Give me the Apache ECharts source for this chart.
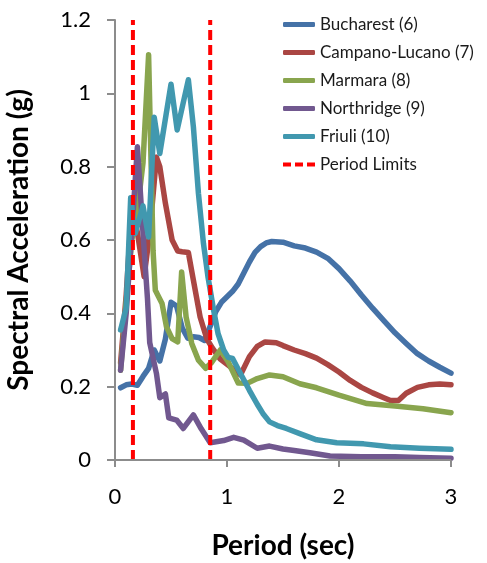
<!DOCTYPE html>
<html>
<head>
<meta charset="utf-8">
<script src="https://cdn.jsdelivr.net/npm/echarts@6/dist/echarts.min.js"></script>
<style>
  html, body { margin: 0; padding: 0; background: #fff; }
  #chart { width: 487px; height: 563px; }
</style>
</head>
<body>
<div id="chart"></div>
<script>
// Response spectra of the five selected records (period in s, Sa in g)
const bucharestT = [0.05, 0.10, 0.15, 0.20, 0.25, 0.30, 0.35, 0.40, 0.45, 0.50, 0.55, 0.60, 0.65, 0.70, 0.75, 0.80, 0.85, 0.90, 0.95, 1.00, 1.05, 1.10, 1.15, 1.20, 1.25, 1.30, 1.35, 1.40, 1.50, 1.60, 1.70, 1.80, 1.90, 2.00, 2.10, 2.20, 2.30, 2.40, 2.50, 2.60, 2.70, 2.80, 2.90, 3.00];
const bucharestSa = [0.197, 0.205, 0.207, 0.204, 0.228, 0.250, 0.300, 0.270, 0.330, 0.430, 0.420, 0.360, 0.332, 0.336, 0.334, 0.326, 0.365, 0.405, 0.430, 0.445, 0.460, 0.480, 0.510, 0.540, 0.566, 0.582, 0.592, 0.596, 0.594, 0.584, 0.578, 0.567, 0.550, 0.522, 0.488, 0.450, 0.414, 0.380, 0.347, 0.318, 0.290, 0.270, 0.253, 0.237];

const campanoT = [0.05, 0.10, 0.15, 0.20, 0.26, 0.31, 0.37, 0.40, 0.45, 0.51, 0.56, 0.60, 0.655, 0.70, 0.76, 0.82, 0.87, 0.94, 1.03, 1.12, 1.20, 1.27, 1.34, 1.44, 1.50, 1.60, 1.70, 1.80, 1.90, 2.00, 2.10, 2.20, 2.30, 2.40, 2.46, 2.53, 2.60, 2.70, 2.80, 2.90, 3.00];
const campanoSa = [0.265, 0.450, 0.690, 0.620, 0.500, 0.620, 0.826, 0.800, 0.700, 0.600, 0.570, 0.568, 0.566, 0.490, 0.390, 0.330, 0.305, 0.275, 0.254, 0.232, 0.282, 0.310, 0.322, 0.320, 0.312, 0.300, 0.290, 0.278, 0.260, 0.240, 0.217, 0.198, 0.183, 0.170, 0.162, 0.162, 0.182, 0.198, 0.205, 0.207, 0.205];

const marmaraT = [0.05, 0.10, 0.15, 0.20, 0.25, 0.30, 0.34, 0.36, 0.42, 0.46, 0.51, 0.56, 0.595, 0.635, 0.685, 0.745, 0.81, 0.86, 0.94, 1.01, 1.10, 1.18, 1.27, 1.38, 1.50, 1.65, 1.80, 2.00, 2.25, 2.50, 2.75, 3.00];
const marmaraSa = [0.245, 0.430, 0.600, 0.680, 0.810, 1.105, 0.570, 0.463, 0.427, 0.363, 0.331, 0.322, 0.513, 0.390, 0.318, 0.272, 0.250, 0.265, 0.300, 0.268, 0.210, 0.209, 0.222, 0.232, 0.227, 0.208, 0.197, 0.177, 0.154, 0.147, 0.140, 0.129];

const northridgeT = [0.05, 0.10, 0.15, 0.20, 0.25, 0.29, 0.31, 0.37, 0.40, 0.45, 0.48, 0.55, 0.61, 0.70, 0.77, 0.85, 0.97, 1.06, 1.15, 1.27, 1.38, 1.50, 1.60, 1.74, 1.92, 2.20, 2.50, 2.72, 3.00];
const northridgeSa = [0.245, 0.400, 0.620, 0.854, 0.620, 0.440, 0.320, 0.236, 0.170, 0.180, 0.115, 0.109, 0.086, 0.123, 0.085, 0.047, 0.053, 0.062, 0.054, 0.032, 0.038, 0.030, 0.026, 0.020, 0.011, 0.009, 0.009, 0.007, 0.005];

const friuliT = [0.05, 0.10, 0.14, 0.18, 0.25, 0.30, 0.35, 0.40, 0.50, 0.555, 0.655, 0.70, 0.745, 0.79, 0.83, 0.88, 0.92, 0.97, 1.01, 1.05, 1.12, 1.20, 1.27, 1.32, 1.38, 1.45, 1.53, 1.65, 1.80, 1.98, 2.22, 2.46, 2.72, 3.00];
const friuliSa = [0.355, 0.415, 0.715, 0.618, 0.693, 0.608, 0.935, 0.836, 1.025, 0.900, 1.037, 0.908, 0.727, 0.590, 0.500, 0.410, 0.345, 0.300, 0.280, 0.277, 0.236, 0.190, 0.152, 0.127, 0.104, 0.094, 0.086, 0.072, 0.055, 0.047, 0.044, 0.036, 0.032, 0.029];

// Period range limits (s) and the y-extent of the limit lines
const periodLimits = [0.16, 0.85];
const limitRange = [0, 1.2];

const seriesNames = ['Bucharest (6)', 'Campano-Lucano (7)', 'Marmara (8)', 'Northridge (9)', 'Friuli (10)'];
const limitName = 'Period Limits';
const seriesColors = ['#4572A7', '#AA4643', '#89A54E', '#71588F', '#4198AF'];
const seriesT = [bucharestT, campanoT, marmaraT, northridgeT, friuliT];
const seriesSa = [bucharestSa, campanoSa, marmaraSa, northridgeSa, friuliSa];

const yTicks = [0, 0.2, 0.4, 0.6, 0.8, 1, 1.2];
const xTicks = [0, 1, 2, 3];

const FONT = 'Lato, "Open Sans", sans-serif';
const AXIS_GREY = '#8C8C8C';

// Plot-area geometry (px)
const GRID = { left: 115, right: 36, top: 20, bottom: 103 };
const PLOT_W = 487 - GRID.left - GRID.right;
const PLOT_H = 563 - GRID.top - GRID.bottom;

const xMin = xTicks[0], xMax = xTicks[xTicks.length - 1];
const yMin = yTicks[0], yMax = yTicks[yTicks.length - 1];

const zip = (t, v) => t.map((x, i) => [x, v[i]]);

const spectra = seriesNames.map((name, k) => ({
  name: name,
  type: 'line',
  data: zip(seriesT[k], seriesSa[k]),
  symbol: 'none',
  lineStyle: { width: 5.5, color: seriesColors[k], cap: 'round', join: 'round' },
  itemStyle: { color: seriesColors[k] },
  z: 3 + k,
  silent: true
}));

const limits = periodLimits.map(p => ({
  name: limitName,
  type: 'line',
  data: [[p, limitRange[0]], [p, limitRange[1]]],
  symbol: 'none',
  lineStyle: { width: 4, color: '#FF0000', type: [10, 5] },
  itemStyle: { color: '#FF0000' },
  z: 10,
  silent: true
}));

// Axis frame with outward ticks (tick lengths: 8 px left, 7 px down)
const tickDx = 8 * (xMax - xMin) / PLOT_W;
const tickDy = 7 * (yMax - yMin) / PLOT_H;
const frameSegments = [
  [[xMin, yMin], [xMin, yMax]],
  [[xMin - tickDx, yMin], [xMax, yMin]]
]
  .concat(yTicks.map(v => [[xMin - tickDx, v], [xMin, v]]))
  .concat(xTicks.map(v => [[v, yMin], [v, yMin - tickDy]]));

const frame = frameSegments.map(seg => ({
  type: 'line',
  data: seg,
  symbol: 'none',
  clip: false,
  silent: true,
  z: 12,
  lineStyle: { width: 2, color: AXIS_GREY, cap: 'butt' },
  itemStyle: { color: AXIS_GREY }
}));

const chart = echarts.init(document.getElementById('chart'), null, { renderer: 'canvas' });
chart.setOption({
  animation: false,
  backgroundColor: '#ffffff',
  grid: Object.assign({ containLabel: false, outerBoundsMode: 'none' }, GRID),
  legend: {
    orient: 'vertical',
    left: 283,
    top: 16,
    padding: 0,
    itemWidth: 32,
    itemHeight: 5,
    itemGap: 11,
    textStyle: { fontFamily: FONT, fontSize: 17, color: '#1a1a1a' },
    data: seriesNames.map(n => ({ name: n, icon: 'roundRect' }))
      .concat([{ name: limitName, icon: 'path://M0,0h8v4h-8z M12,0h8v4h-8z M24,0h8v4h-8z' }])
  },
  xAxis: {
    type: 'value',
    min: xMin,
    max: xMax,
    interval: 1,
    name: 'Period (sec)',
    nameLocation: 'middle',
    nameGap: 72,
    nameTextStyle: { fontFamily: FONT, fontSize: 28, fontWeight: 'bold', color: '#000' },
    axisLine: { show: true, onZero: false, lineStyle: { color: AXIS_GREY, width: 2 } },
    axisTick: { show: true, length: 7, lineStyle: { color: AXIS_GREY, width: 2 } },
    axisLabel: { fontFamily: FONT, fontSize: 22, color: '#000', margin: 26 },
    splitLine: { show: false }
  },
  yAxis: {
    type: 'value',
    min: yMin,
    max: yMax,
    interval: 0.2,
    name: 'Spectral Acceleration (g)',
    nameLocation: 'middle',
    nameGap: 82,
    nameTextStyle: { fontFamily: FONT, fontSize: 28, fontWeight: 'bold', color: '#000' },
    axisLine: { show: true, lineStyle: { color: AXIS_GREY, width: 2 } },
    axisTick: { show: true, length: 8, lineStyle: { color: AXIS_GREY, width: 2 } },
    axisLabel: {
      fontFamily: FONT, fontSize: 22, color: '#000', margin: 24,
      formatter: v => String(Math.round(v * 10) / 10)
    },
    splitLine: { show: false }
  },
  series: frame.concat(spectra, limits)
});
</script>
</body>
</html>
